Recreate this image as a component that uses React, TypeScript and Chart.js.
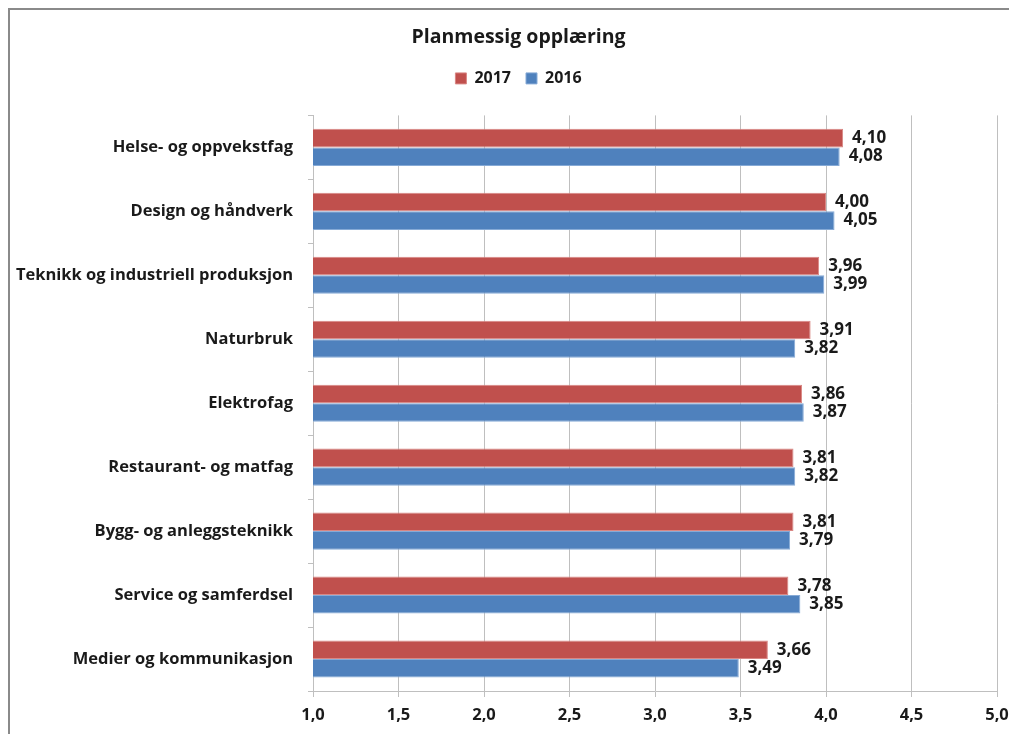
import React, { useEffect, useRef } from "react";
import { Chart, registerables } from "chart.js";

Chart.register(...registerables);

const categories = [
  "Helse- og oppvekstfag",
  "Design og håndverk",
  "Teknikk og industriell produksjon",
  "Naturbruk",
  "Elektrofag",
  "Restaurant- og matfag",
  "Bygg- og anleggsteknikk",
  "Service og samferdsel",
  "Medier og kommunikasjon",
];
const values2017 = [4.1, 4.0, 3.96, 3.91, 3.86, 3.81, 3.81, 3.78, 3.66];
const values2016 = [4.08, 4.05, 3.99, 3.82, 3.87, 3.82, 3.79, 3.85, 3.49];
const seriesNames = ["2017", "2016"];
const axisMin = 1;
const axisMax = 5;
const axisStep = 0.5;

const FONT = "'Open Sans', Lato, sans-serif";
const TEXT = "#1a1a1a";
const GRID = "#bfbfbf";

const fmt = (v: number, digits: number) => v.toFixed(digits).replace(".", ",");

// Writes each bar's value just past its end.
const valueLabels = {
  id: "valueLabels",
  afterDatasetsDraw(chart: any) {
    const ctx = chart.ctx;
    ctx.save();
    ctx.font = `bold 17px ${FONT}`;
    ctx.fillStyle = TEXT;
    ctx.textAlign = "left";
    ctx.textBaseline = "middle";
    chart.data.datasets.forEach((ds: any, di: number) => {
      const meta = chart.getDatasetMeta(di);
      meta.data.forEach((bar: any, i: number) => {
        ctx.fillText(fmt(ds.data[i], 2), bar.x + 9, bar.y);
      });
    });
    ctx.restore();
  },
};

// Centres the title and legend on the whole frame rather than on the
// area left of the right-hand padding.
const HEADER_SHIFT = 15;
const headerShift = {
  id: "headerShift",
  afterLayout(chart: any) {
    [chart.titleBlock, chart.legend].forEach((box: any) => {
      if (!box) return;
      box.left += HEADER_SHIFT;
      box.right += HEADER_SHIFT;
    });
  },
};

export default function App() {
  const ref = useRef<HTMLCanvasElement>(null);

  useEffect(() => {
    if (!ref.current) return;
    const chart = new Chart(ref.current, {
      type: "bar",
      data: {
        labels: categories,
        datasets: [
          {
            label: seriesNames[0],
            data: values2017,
            backgroundColor: "#c0504d",
            borderColor: "#d98784",
            borderWidth: 1,
          },
          {
            label: seriesNames[1],
            data: values2016,
            backgroundColor: "#4f81bd",
            borderColor: "#86aad6",
            borderWidth: 1,
          },
        ],
      },
      options: {
        indexAxis: "y",
        responsive: false,
        animation: false,
        devicePixelRatio: 1,
        layout: { padding: { top: 0, right: 29, bottom: 0, left: 0 } },
        datasets: {
          bar: { categoryPercentage: 0.58, barPercentage: 1 },
        },
        plugins: {
          title: {
            display: true,
            text: "Planmessig opplæring",
            color: TEXT,
            font: { family: FONT, size: 19.5, weight: "bold" },
            padding: { top: 16, bottom: 6 },
          },
          legend: {
            display: true,
            position: "top",
            labels: {
              color: TEXT,
              font: { family: FONT, size: 16, weight: "bold" },
              boxWidth: 11,
              boxHeight: 11,
              padding: 15,
            },
          },
          tooltip: { enabled: false },
        },
        scales: {
          x: {
            min: axisMin,
            max: axisMax,
            ticks: {
              stepSize: axisStep,
              color: TEXT,
              font: { family: FONT, size: 16.5, weight: "bold" },
              padding: 8,
              callback: (v: any) => fmt(Number(v), 1),
            },
            grid: { color: GRID, lineWidth: 1, tickLength: 6, drawTicks: true },
            border: { color: GRID, width: 1 },
            afterFit: (scale: any) => {
              scale.height = 43;
            },
          },
          // empty band between the legend and the plot
          xTop: {
            axis: "x",
            type: "linear",
            position: "top",
            ticks: { display: false },
            grid: { display: false, drawTicks: false },
            border: { display: false },
            afterFit: (scale: any) => {
              scale.height = 19;
            },
          },
          y: {
            ticks: {
              color: TEXT,
              font: { family: FONT, size: 16.5, weight: "bold" },
              padding: 15,
            },
            grid: {
              offset: true,
              drawOnChartArea: false,
              color: GRID,
              tickLength: 5,
            },
            border: { color: GRID, width: 1 },
            afterFit: (scale: any) => {
              scale.width = 303;
            },
          },
        },
      },
      plugins: [valueLabels, headerShift],
    });
    return () => chart.destroy();
  }, []);

  return (
    <div style={{ width: 1009, height: 726, overflow: "hidden" }}>
      <div
        style={{
          width: 1016,
          height: 724,
          borderLeft: "2px solid #8a8a8a",
          borderTop: "2px solid #8a8a8a",
          background: "#fff",
        }}
      >
        <canvas ref={ref} width={1016} height={724} style={{ display: "block" }} />
      </div>
    </div>
  );
}
